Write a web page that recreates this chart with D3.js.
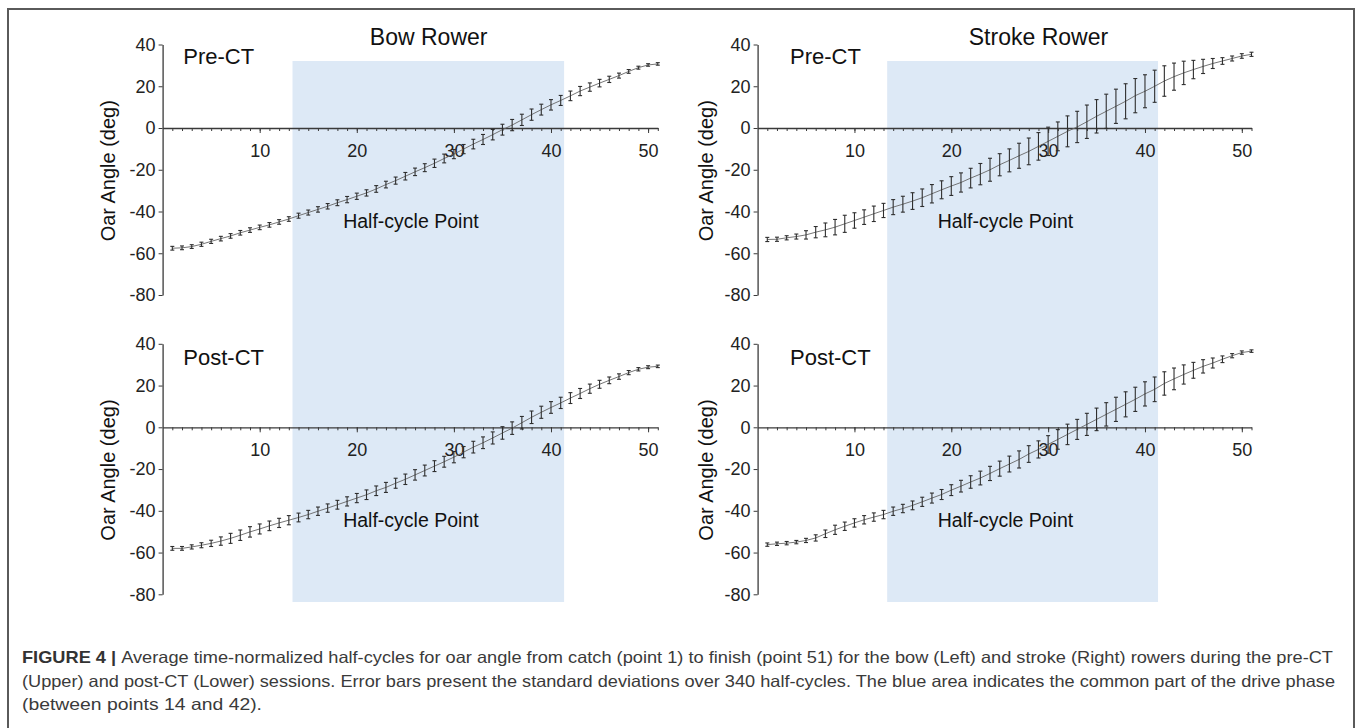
<!DOCTYPE html>
<html>
<head>
<meta charset="utf-8">
<script src="https://cdn.jsdelivr.net/npm/d3@7"></script>
<style>
  html, body { margin: 0; padding: 0; background: #fff; }
  svg { display: block; font-family: "Liberation Sans", Arial, Helvetica, sans-serif; }
</style>
</head>
<body>
<svg id="chart" width="1358" height="728"></svg>
<script>
// ---------- data ----------
const points = d3.range(1, 52); // half-cycle points 1..51
const xTicksMajor = [10, 20, 30, 40, 50];
const yTicks = [40, 20, 0, -20, -40, -60, -80];
const shadedRange = [13.38, 41.35];
const rowerTitles = ["Bow Rower", "Stroke Rower"];
const sessionLabels = ["Pre-CT", "Post-CT"];
const yAxisTitle = "Oar Angle (deg)";
const regionLabel = "Half-cycle Point";

const bowPreMean = [-57.6,-57.4,-56.8,-55.7,-54.3,-53.0,-51.7,-50.2,-48.9,-47.6,
  -46.4,-45.0,-43.6,-42.0,-40.5,-39.0,-37.5,-35.8,-34.3,-32.7,
  -31.1,-29.2,-27.1,-25.2,-23.1,-21.0,-19.0,-16.9,-14.6,-12.5,
  -10.1,-7.7,-5.5,-3.2,-0.8,1.4,3.9,6.4,8.8,11.1,
  13.2,15.4,17.7,19.6,21.5,23.3,25.1,27.1,28.9,30.2,30.7];
const bowPreSD = [0.9,0.9,0.9,1.0,1.0,1.1,1.1,1.1,1.1,1.1,
  1.1,1.1,1.1,1.2,1.2,1.3,1.3,1.4,1.5,1.5,
  1.5,1.6,1.6,1.7,1.8,1.8,1.9,2.0,2.1,2.2,
  2.2,2.3,2.4,2.5,2.6,2.7,2.7,2.7,2.6,2.5,
  2.4,2.3,2.2,2.0,1.8,1.5,1.2,0.9,0.7,0.6,0.6];

const bowPostMean = [-58.0,-58.0,-57.3,-56.5,-55.6,-54.5,-53.2,-51.7,-50.1,-48.7,
  -47.2,-45.8,-44.5,-43.2,-41.8,-40.2,-38.7,-37.1,-35.5,-33.9,
  -32.3,-30.4,-28.8,-26.8,-24.9,-22.8,-20.7,-18.6,-16.5,-14.3,
  -11.9,-9.5,-7.4,-5.1,-2.7,-0.4,2.2,4.8,7.2,9.5,
  11.7,14.0,16.2,18.5,20.6,22.5,24.3,26.2,27.8,28.8,29.2];
const bowPostSD = [0.9,0.9,1.0,1.2,1.5,2.0,2.4,2.5,2.5,2.4,
  2.3,2.2,2.2,2.1,2.0,2.0,2.0,2.1,2.2,2.2,
  2.3,2.3,2.4,2.4,2.5,2.5,2.6,2.6,2.6,2.7,
  2.7,2.8,2.8,2.9,3.0,3.0,3.0,3.0,2.9,2.8,
  2.7,2.6,2.4,2.2,1.9,1.6,1.3,1.0,0.8,0.7,0.6];

const strokePreMean = [-53.4,-53.3,-52.6,-52.0,-51.2,-49.9,-48.8,-47.5,-45.9,-44.3,
  -42.7,-41.1,-39.5,-37.9,-36.5,-35.0,-33.4,-31.5,-29.6,-27.8,
  -26.1,-24.0,-22.1,-20.0,-17.6,-15.5,-13.3,-11.2,-8.8,-6.4,
  -4.0,-1.6,0.5,3.0,5.6,8.0,10.4,12.8,15.5,17.6,
  20.0,22.5,24.6,26.4,28.0,29.5,30.9,32.1,33.3,34.5,35.3];
const strokePreSD = [1.0,1.0,1.0,1.2,2.0,2.7,3.3,3.7,4.1,3.7,
  3.5,3.7,3.4,3.6,3.8,4.0,4.2,4.4,4.3,4.5,
  4.6,4.7,5.1,5.5,5.3,5.5,6.0,6.4,6.6,6.8,
  6.9,7.4,7.5,8.0,8.0,8.2,8.2,8.4,8.2,7.9,
  7.7,7.3,6.5,5.6,4.4,3.4,2.4,1.6,1.2,1.1,1.0];

const strokePostMean = [-56.2,-55.8,-55.5,-55.0,-54.2,-53.0,-51.0,-49.1,-47.4,-45.8,
  -44.3,-43.0,-41.8,-40.2,-38.9,-37.4,-35.7,-33.9,-32.2,-30.1,
  -28.2,-26.2,-24.3,-22.1,-19.8,-17.6,-15.4,-12.8,-10.6,-8.2,
  -5.8,-3.4,-1.0,1.4,3.8,6.2,8.6,11.0,13.4,16.0,
  18.2,21.0,23.2,25.3,27.3,29.2,30.8,32.6,34.3,35.8,36.5];
const strokePostSD = [0.8,0.8,0.8,0.8,1.0,1.5,1.8,2.2,2.0,2.0,
  2.0,2.0,2.0,2.0,2.0,2.1,2.2,2.4,2.4,2.6,
  2.8,3.0,3.3,3.4,3.6,3.8,4.1,4.0,4.1,4.2,
  4.7,4.9,4.8,5.3,5.4,5.6,5.8,6.0,5.8,5.8,
  5.9,5.6,5.2,4.6,3.8,3.2,2.4,1.6,1.0,0.8,0.6];

const captionBold = "FIGURE 4 | ";
const captionLines = [
  "Average time-normalized half-cycles for oar angle from catch (point 1) to finish (point 51) for the bow (Left) and stroke (Right) rowers during the pre-CT",
  "(Upper) and post-CT (Lower) sessions. Error bars present the standard deviations over 340 half-cycles. The blue area indicates the common part of the drive phase",
  "(between points 14 and 42)."
];

// ---------- layout ----------
const svg = d3.select("#chart");
const W = 1358, H = 728;
const cols = [ {x0: 162.6, x1: 657.8, yLab: 108, preOff: 20.7},
               {x0: 757.6, x1: 1251.5, yLab: 706, preOff: 32.4} ];
const rows = [ {yTop: 44.5, yBot: 295.0, preBase: 63.5, hcBase: 228},
               {yTop: 343.8, yBot: 594.3, preBase: 365, hcBase: 527} ];
const panelData = [
  [ {m: bowPreMean, s: bowPreSD},  {m: strokePreMean, s: strokePreSD} ],
  [ {m: bowPostMean, s: bowPostSD}, {m: strokePostMean, s: strokePostSD} ]
];
const shadeTop = 61, shadeBot = 602;
const axisColor = "#3a3a3a";
const fmt = v => String(v); // plain hyphen-minus like the original

// frame
svg.append("path")
  .attr("d", `M8,${H+5} L8,9 L1354,9 L1354,${H+5}`)
  .attr("fill", "none").attr("stroke", "#5a5a5a").attr("stroke-width", 2);

// shaded regions (span both rows)
cols.forEach(c => {
  const x = d3.scaleLinear().domain([0, 51]).range([c.x0, c.x1]);
  svg.append("rect")
    .attr("x", x(shadedRange[0])).attr("y", shadeTop)
    .attr("width", x(shadedRange[1]) - x(shadedRange[0]))
    .attr("height", shadeBot - shadeTop)
    .attr("fill", "#dde9f6");
});

rows.forEach((r, ri) => {
  cols.forEach((c, ci) => {
    const x = d3.scaleLinear().domain([0, 51]).range([c.x0, c.x1]);
    const y = d3.scaleLinear().domain([40, -80]).range([r.yTop, r.yBot]);
    const g = svg.append("g");
    const d = panelData[ri][ci];

    // y axis
    const ya = g.append("g").attr("transform", `translate(${c.x0},0)`)
      .call(d3.axisLeft(y).tickValues(yTicks).tickSize(4).tickSizeOuter(0).tickPadding(3).tickFormat(fmt));
    ya.select(".domain").attr("stroke", axisColor).attr("stroke-width", 1.3);
    ya.selectAll(".tick line").attr("stroke", axisColor);
    ya.selectAll(".tick text").attr("font-size", 18).attr("fill", "#222")
      .attr("font-family", "'Liberation Sans', Arial, sans-serif");

    // x axis at zero: minor ticks
    const xm = g.append("g").attr("transform", `translate(0,${y(0)})`)
      .call(d3.axisBottom(x).tickValues(points).tickSize(3).tickSizeOuter(0).tickFormat(""));
    xm.select(".domain").attr("stroke", axisColor).attr("stroke-width", 1.3);
    xm.selectAll(".tick line").attr("stroke", axisColor);
    // major ticks with labels
    const xM = g.append("g").attr("transform", `translate(0,${y(0)})`)
      .call(d3.axisBottom(x).tickValues(xTicksMajor).tickSize(5).tickSizeOuter(0).tickPadding(11).tickFormat(fmt));
    xM.select(".domain").remove();
    xM.selectAll(".tick line").attr("stroke", axisColor);
    xM.selectAll(".tick text").attr("font-size", 18).attr("fill", "#222")
      .attr("font-family", "'Liberation Sans', Arial, sans-serif");

    // mean line
    const line = d3.line().x((v, i) => x(points[i])).y(v => y(v));
    g.append("path").datum(d.m).attr("d", line)
      .attr("fill", "none").attr("stroke", "#666").attr("stroke-width", 0.9);

    // error bars
    const eb = g.append("g").attr("stroke", "#2e2e2e").attr("stroke-width", 1.1).attr("fill", "none");
    points.forEach((p, i) => {
      const xc = x(p), yl = y(d.m[i] - d.s[i]), yh = y(d.m[i] + d.s[i]);
      eb.append("line").attr("x1", xc).attr("x2", xc).attr("y1", yl).attr("y2", yh);
      eb.append("line").attr("x1", xc - 2).attr("x2", xc + 2).attr("y1", yl).attr("y2", yl);
      eb.append("line").attr("x1", xc - 2).attr("x2", xc + 2).attr("y1", yh).attr("y2", yh);
    });

    // session label
    g.append("text").attr("x", c.x0 + c.preOff).attr("y", r.preBase)
      .attr("font-size", 22).attr("fill", "#111").text(sessionLabels[ri]);

    // half-cycle point label
    g.append("text").attr("x", x(18.6)).attr("y", r.hcBase)
      .attr("font-size", 19.5).attr("fill", "#111").text(regionLabel);

    // y axis title
    g.append("text")
      .attr("transform", `translate(${c.yLab},${(r.yTop + r.yBot) / 2 + 1}) rotate(-90)`)
      .attr("text-anchor", "middle").attr("dominant-baseline", "central")
      .attr("font-size", 20).attr("fill", "#111").text(yAxisTitle);

    // rower titles
    if (ri === 0) {
      g.append("text").attr("x", x(ci === 0 ? 27.4 : 29)).attr("y", 45)
        .attr("text-anchor", "middle").attr("font-size", 23).attr("fill", "#111")
        .text(rowerTitles[ci]);
    }
  });
});

// caption
const capX = 22, capW = [1311, 1313, 240], capY = [663, 687, 710];
captionLines.forEach((t, i) => {
  const tx = svg.append("text").attr("x", capX).attr("y", capY[i])
    .attr("font-size", 16.5).attr("fill", "#3a3a3a")
    .attr("font-family", "'Liberation Sans Narrow', 'Liberation Sans', Arial, sans-serif")
    .attr("textLength", capW[i]).attr("lengthAdjust", "spacingAndGlyphs");
  if (i === 0) {
    tx.append("tspan").attr("font-weight", "bold").attr("fill", "#333").text(captionBold);
  }
  tx.append("tspan").text(t);
});
</script>
</body>
</html>
